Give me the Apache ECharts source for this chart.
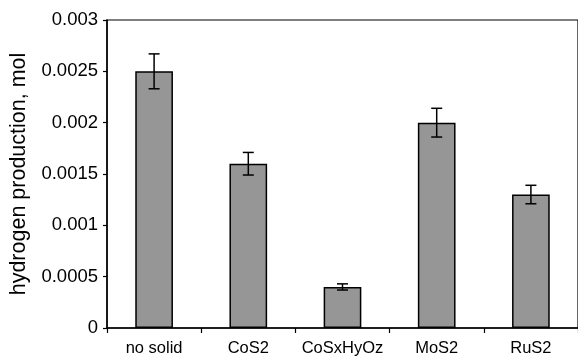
<!DOCTYPE html>
<html>
<head>
<meta charset="utf-8">
<script src="https://cdn.jsdelivr.net/npm/echarts@6/dist/echarts.min.js"></script>
<style>html,body{margin:0;padding:0;background:#fff}#c{width:578px;height:359px}</style>
</head>
<body>
<div id="c"></div>
<script>
const categories = ['no solid', 'CoS2', 'CoSxHyOz', 'MoS2', 'RuS2'];
const values = [0.0025, 0.0016, 0.0004, 0.002, 0.0013];
const errors = [0.00017, 0.00011, 0.00003, 0.00014, 0.00009];
const yTickLabels = ['0', '0.0005', '0.001', '0.0015', '0.002', '0.0025', '0.003'];

const errData = categories.map((c, i) => [i, values[i] - errors[i], values[i] + errors[i]]);
const font = 'Liberation Sans, Arial, Helvetica, sans-serif';

const chart = echarts.init(document.getElementById('c'), null, {renderer: 'canvas'});
chart.setOption({
  animation: false,
  backgroundColor: '#fff',
  grid: {left: 107, right: -2, top: 20, bottom: 31, show: true, borderColor: '#000', borderWidth: 1.2, backgroundColor: 'transparent'},
  xAxis: {
    type: 'category',
    data: categories,
    axisLine: {lineStyle: {color: '#000', width: 1.5}},
    axisTick: {show: true, length: 5, lineStyle: {color: '#000', width: 1.2}},
    axisLabel: {color: '#000', fontSize: 16.5, fontFamily: font, margin: 12, interval: 0},
    splitLine: {show: false}
  },
  yAxis: {
    type: 'value',
    min: 0, max: 0.003, interval: 0.0005,
    name: 'hydrogen production, mol',
    nameLocation: 'middle',
    nameGap: 74,
    nameTextStyle: {color: '#000', fontSize: 21.5, fontFamily: font},
    axisLine: {show: true, lineStyle: {color: '#000', width: 1.5}},
    axisTick: {show: true, length: 4, lineStyle: {color: '#000', width: 1.2}},
    axisLabel: {color: '#000', fontSize: 18.5, fontFamily: font, margin: 9,
      formatter: (v, i) => yTickLabels[i] !== undefined ? yTickLabels[i] : String(v)},
    splitLine: {show: false}
  },
  series: [
    {
      type: 'bar',
      data: values,
      barWidth: '40%',
      itemStyle: {color: '#969696', borderColor: '#000', borderWidth: 1.5}
    },
    {
      type: 'custom',
      data: errData,
      z: 10,
      renderItem: function (params, api) {
        const x = api.value(0);
        const lo = api.coord([x, api.value(1)]);
        const hi = api.coord([x, api.value(2)]);
        const hw = 5.5;
        const style = {stroke: '#000', lineWidth: 1.5};
        return {
          type: 'group',
          children: [
            {type: 'line', shape: {x1: lo[0], y1: lo[1], x2: hi[0], y2: hi[1]}, style: style},
            {type: 'line', shape: {x1: lo[0] - hw, y1: lo[1], x2: lo[0] + hw, y2: lo[1]}, style: style},
            {type: 'line', shape: {x1: hi[0] - hw, y1: hi[1], x2: hi[0] + hw, y2: hi[1]}, style: style}
          ]
        };
      }
    }
  ]
});
</script>
</body>
</html>
